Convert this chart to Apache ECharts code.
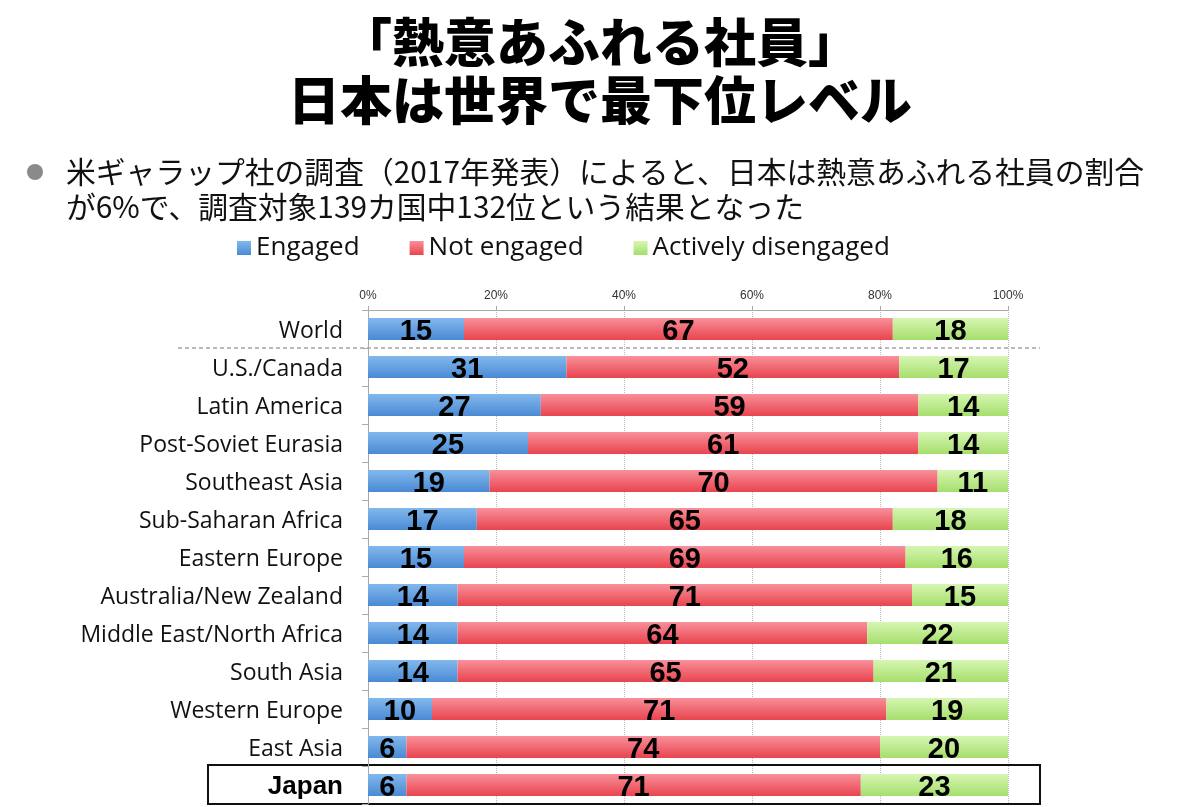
<!DOCTYPE html>
<html><head><meta charset="utf-8">
<script src="https://cdn.jsdelivr.net/npm/echarts@6/dist/echarts.min.js"></script>
<style>html,body{margin:0;padding:0;background:#fff}#c{width:1200px;height:807px}</style>
</head><body><div id="c"></div>
<script>
const categories = ["World","U.S./Canada","Latin America","Post-Soviet Eurasia","Southeast Asia","Sub-Saharan Africa","Eastern Europe","Australia/New Zealand","Middle East/North Africa","South Asia","Western Europe","East Asia","Japan"];
const engaged = [15,31,27,25,19,17,15,14,14,14,10,6,6];
const notEngaged = [67,52,59,61,70,65,69,71,64,65,71,74,71];
const activelyDisengaged = [18,17,14,14,11,18,16,15,22,21,19,20,23];
const seriesNames = ["Engaged","Not engaged","Actively disengaged"];
const xTicks = [0,20,40,60,80,100];

const chart = echarts.init(document.getElementById('c'));
function grad(a,b){return new echarts.graphic.LinearGradient(0,0,0,1,[{offset:0,color:a},{offset:1,color:b}]);}
const colors = [grad('#82b8ec','#4a8ad4'), grad('#f8909a','#e8444e'), grad('#d6f6b2','#a6de6c')];
const labelStyle = {show:true,position:'inside',color:'#000',fontSize:29,fontWeight:'bold',fontFamily:'"Liberation Sans Narrow","Arial Narrow","Liberation Sans",sans-serif',offset:[0,3]};
function mk(i,data){return {name:seriesNames[i],type:'bar',stack:'s',barWidth:22,data:data,itemStyle:{color:colors[i]},label:labelStyle,emphasis:{disabled:true}};}
chart.setOption({
  animation:false,
  backgroundColor:'#fff',
  title:{text:'「熱意あふれる社員」\n日本は世界で最下位レベル',left:'center',top:8,
    textStyle:{fontFamily:'"Noto Sans CJK JP"',fontWeight:900,fontSize:52,lineHeight:58,color:'#000'}},
  legend:{data:seriesNames,left:232,top:230,itemWidth:14,itemHeight:14,itemGap:50,icon:'rect',
    textStyle:{fontSize:26,color:'#111',fontFamily:'"Open Sans","Noto Sans",sans-serif'}},
  grid:{left:368,right:192,top:310,bottom:3,containLabel:false},
  xAxis:{type:'value',position:'top',min:0,max:100,interval:20,
    axisLabel:{formatter:'{value}%',fontSize:12,color:'#333',margin:8},
    axisLine:{show:true,lineStyle:{color:'#aaa'}},axisTick:{show:true,length:4,lineStyle:{color:'#aaa'}},
    splitLine:{show:true,lineStyle:{type:'dotted',color:'#bbb'}}},
  yAxis:{type:'category',inverse:true,data:categories,
    axisLine:{show:true,lineStyle:{color:'#aaa'}},axisTick:{show:true,length:6,lineStyle:{color:'#aaa'}},
    axisLabel:{margin:25,fontSize:23,color:'#111',fontFamily:'"Open Sans","Noto Sans",sans-serif',padding:[4,0,0,0],
      formatter:function(v){return v==='Japan'?'{j|'+v+'}':v;},
      rich:{j:{fontSize:26,fontWeight:'bold',color:'#000',fontFamily:'"Liberation Sans",sans-serif'}}}},
  series:[mk(0,engaged),mk(1,notEngaged),mk(2,activelyDisengaged)]
});
const yTop = chart.convertToPixel({yAxisIndex:0},categories[0]);
const y1 = chart.convertToPixel({yAxisIndex:0},categories[1]);
const yJ = chart.convertToPixel({yAxisIndex:0},categories[categories.length-1]);
const band = y1 - yTop;
const sepY = (yTop+y1)/2;
chart.setOption({graphic:[
  {type:'circle',shape:{cx:35,cy:172,r:8},style:{fill:'#8a8a8a'}},
  {type:'text',left:66,top:154,style:{text:'米ギャラップ社の調査（2017年発表）によると、日本は熱意あふれる社員の割合\nが6%で、調査対象139カ国中132位という結果となった',
    font:'29.8px "Noto Sans CJK JP"',fill:'#111',lineHeight:35}},
  {type:'line',shape:{x1:178,y1:sepY,x2:1040,y2:sepY},style:{stroke:'#777',lineWidth:1,lineDash:[4,3]}},
  {type:'rect',shape:{x:208,y:yJ-band/2-1,width:832,height:band+1},style:{fill:'none',stroke:'#111',lineWidth:2}}
]});
</script></body></html>
